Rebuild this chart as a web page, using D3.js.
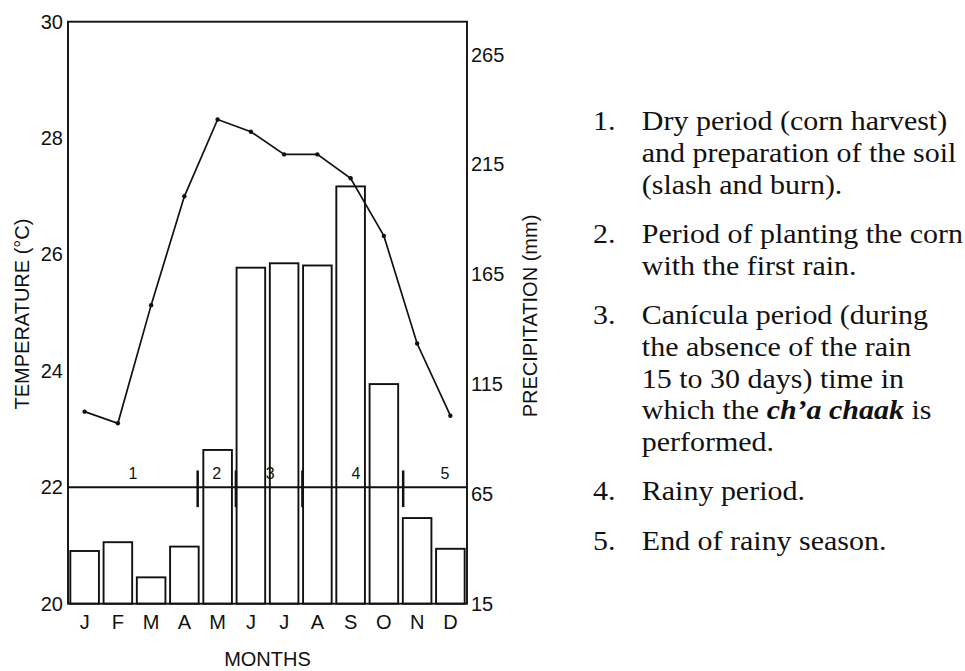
<!DOCTYPE html>
<html>
<head>
<meta charset="utf-8">
<script src="https://cdn.jsdelivr.net/npm/d3@7"></script>
<style>
  body { margin: 0; background: #fff; }
  svg { display: block; }
</style>
</head>
<body>
<div id="chart"></div>
<script>
// values
const months = ["J", "F", "M", "A", "M", "J", "J", "A", "S", "O", "N", "D"];
const precipitation = [39, 43, 27, 41, 85, 168, 170, 169, 205, 115, 54, 40];
const temperature = [23.3, 23.1, 25.13, 27.0, 28.32, 28.11, 27.72, 27.72, 27.31, 26.32, 24.47, 23.23];
const tempTicks = [20, 22, 24, 26, 28, 30];
const precipTicks = [15, 65, 115, 165, 215, 265];
const periodBounds = [3.9, 5.05, 7.05, 10.08];   // in month units
const periodLabels = ["1", "2", "3", "4", "5"];
const periodLabelPos = [1.95, 4.47, 6.08, 8.66, 11.34];
const periodLevel = 22;

const notes = [
  ["1.", ["Dry period (corn harvest)", "and preparation of the soil", "(slash and burn)."]],
  ["2.", ["Period of planting the corn", "with the first rain."]],
  ["3.", ["Canícula period (during", "the absence of the rain", "15 to 30 days) time in", "which the |ch’a chaak| is", "performed."]],
  ["4.", ["Rainy period."]],
  ["5.", ["End of rainy season."]]
];

const width = 965, height = 671;
const plotL = 68, plotR = 467, plotT = 21.7, plotB = 603.7;

const svg = d3.select("#chart").append("svg")
  .attr("width", width)
  .attr("height", height);

const x = d3.scaleBand()
  .domain(d3.range(12))
  .range([plotL, plotR])
  .paddingInner(0.14)
  .paddingOuter(0.07);

const xm = d3.scaleLinear().domain([0, 12]).range([plotL, plotR]);

const yT = d3.scaleLinear().domain([20, 30]).range([plotB, plotT]);
const yP = d3.scaleLinear().domain([15, 280]).range([plotB, plotT]);

// bars
svg.append("g")
  .selectAll("rect")
  .data(precipitation)
  .join("rect")
  .attr("x", (d, i) => x(i))
  .attr("y", d => yP(d))
  .attr("width", x.bandwidth())
  .attr("height", d => yP(15) - yP(d))
  .attr("fill", "none")
  .attr("stroke", "#111")
  .attr("stroke-width", 1.9);

// period line
svg.append("line")
  .attr("x1", plotL).attr("x2", plotR)
  .attr("y1", yT(periodLevel)).attr("y2", yT(periodLevel))
  .attr("stroke", "#111")
  .attr("stroke-width", 2);

svg.append("g")
  .selectAll("line")
  .data(periodBounds)
  .join("line")
  .attr("x1", d => xm(d)).attr("x2", d => xm(d))
  .attr("y1", yT(periodLevel + 0.29))
  .attr("y2", yT(periodLevel - 0.34))
  .attr("stroke", "#111")
  .attr("stroke-width", 2.5);

svg.append("g")
  .selectAll("text")
  .data(periodLabels)
  .join("text")
  .attr("x", (d, i) => xm(periodLabelPos[i]))
  .attr("y", yT(periodLevel) - 8)
  .attr("text-anchor", "middle")
  .style("font-family", "Liberation Sans, Arial, sans-serif")
  .style("font-size", "16px")
  .attr("fill", "#111")
  .text(d => d);

// temperature line
const line = d3.line()
  .x((d, i) => x(i) + x.bandwidth() / 2)
  .y(d => yT(d));

svg.append("path")
  .datum(temperature)
  .attr("d", line)
  .attr("fill", "none")
  .attr("stroke", "#111")
  .attr("stroke-width", 1.7);

svg.append("g")
  .selectAll("circle")
  .data(temperature)
  .join("circle")
  .attr("cx", (d, i) => x(i) + x.bandwidth() / 2)
  .attr("cy", d => yT(d))
  .attr("r", 2.2)
  .attr("fill", "#111");

// frame
svg.append("rect")
  .attr("x", plotL).attr("y", plotT)
  .attr("width", plotR - plotL).attr("height", plotB - plotT)
  .attr("fill", "none")
  .attr("stroke", "#111")
  .attr("stroke-width", 1.9);

// axes
const axisFont = g => g.selectAll("text")
  .style("font-family", "Liberation Sans, Arial, sans-serif")
  .style("font-size", "20px")
  .attr("fill", "#111");

svg.append("g")
  .attr("transform", `translate(${plotL},0)`)
  .call(d3.axisLeft(yT).tickValues(tempTicks).tickSize(0).tickPadding(5))
  .call(g => g.select(".domain").remove())
  .call(axisFont);

svg.append("g")
  .attr("transform", `translate(${plotR},0)`)
  .call(d3.axisRight(yP).tickValues(precipTicks).tickSize(0).tickPadding(4))
  .call(g => g.select(".domain").remove())
  .call(axisFont);

svg.append("g")
  .attr("transform", `translate(0,${plotB})`)
  .call(d3.axisBottom(x).tickFormat(i => months[i]).tickSize(0).tickPadding(11))
  .call(g => g.select(".domain").remove())
  .call(axisFont);

const titleStyle = t => t
  .style("font-family", "Liberation Sans, Arial, sans-serif")
  .style("font-size", "20px")
  .attr("fill", "#111")
  .attr("text-anchor", "middle");

svg.append("text")
  .attr("x", (plotL + plotR) / 2)
  .attr("y", 666)
  .text("MONTHS")
  .call(titleStyle);

svg.append("text")
  .attr("transform", "translate(29,314) rotate(-90)")
  .text("TEMPERATURE (°C)")
  .call(titleStyle);

svg.append("text")
  .attr("transform", "translate(537,316) rotate(-90)")
  .text("PRECIPITATION (mm)")
  .call(titleStyle);

// notes
const lineH = 31.8, gap = 17.5;
const legend = svg.append("g")
  .attr("transform", "translate(593,0) scale(1.11,1)")
  .style("font-family", "Liberation Serif, 'Times New Roman', serif")
  .style("font-size", "27px")
  .attr("fill", "#111");

let yy = 130;
notes.forEach(([num, lines]) => {
  legend.append("text").attr("x", 0).attr("y", yy).text(num);
  lines.forEach(l => {
    const t = legend.append("text").attr("x", 44).attr("y", yy);
    l.split("|").forEach((part, k) => {
      const s = t.append("tspan").text(part);
      if (k % 2 === 1) s.style("font-weight", "bold").style("font-style", "italic");
    });
    yy += lineH;
  });
  yy += gap;
});
</script>
</body>
</html>
